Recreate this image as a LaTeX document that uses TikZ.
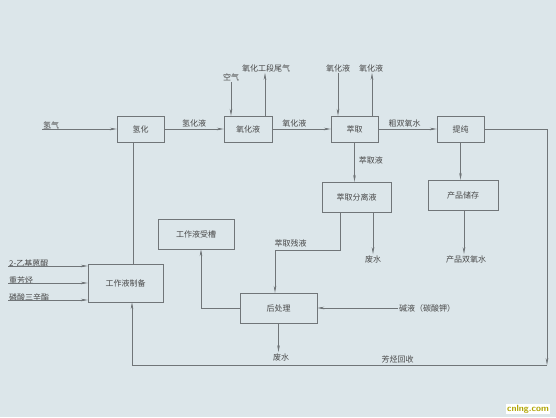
\documentclass[tikz,border=0pt]{standalone}
\usepackage{fontspec}
\usepackage{tikz}
\usetikzlibrary{arrows.meta,positioning,calc}
\newfontfamily\cjk{Noto Sans CJK SC}

\definecolor{bgblue}{RGB}{220,230,234}
\definecolor{linegray}{RGB}{112,117,120}
\definecolor{txtgray}{RGB}{72,72,72}

\begin{document}
\begin{tikzpicture}[
    x=1pt, y=-1pt,
    box/.style={rectangle, draw=linegray, fill=bgblue, inner sep=0pt, minimum height=26pt, align=center, text=txtgray, font=\cjk\fontsize{8}{9}\selectfont},
    lbl/.style={inner sep=1pt, text=txtgray, font=\cjk\fontsize{8}{9}\selectfont},
    arrow/.style={-{Stealth[length=7pt,width=2.6pt]}, draw=linegray, line width=0.6pt},
    line/.style={draw=linegray, line width=0.6pt}
]
    \fill[bgblue] (0,0) rectangle (556,417);
    \useasboundingbox (0,0) rectangle (556,417);

    % main line
    \node[box, minimum width=47pt] (qinghua) at (140.5,129) {氢化};
    \node[box, minimum width=48pt] (yanghua) at (248,129) {氧化液};
    \node[box, minimum width=47pt] (cuiqu) at (354.5,129) {萃取};
    \node[box, minimum width=47pt] (tichun) at (460.5,129) {提纯};
    \node[box, minimum width=69pt, minimum height=30pt] (fenli) at (356.5,197) {萃取分离液};
    \node[box, minimum width=70pt, minimum height=30pt] (chucun) at (463,195) {产品储存};
    \node[box, minimum width=76pt, minimum height=30pt] (shoucao) at (196,234) {工作液受槽};
    \node[box, minimum width=75pt, minimum height=38pt] (zhibei) at (125.5,283) {工作液制备};
    \node[box, minimum width=77pt, minimum height=30pt] (houchuli) at (278.5,308) {后处理};

    % free labels
    \coordinate (h2) at (42,129);
    \node[lbl, anchor=south west] (qingqi) at ([yshift=-1pt]h2) {氢气};
    \node[lbl] (kongqi) at (231,77) {空气};
    \node[lbl] (weiqi) at (266,68) {氧化工段尾气};
    \node[lbl] (yhin) at (338,68) {氧化液};
    \node[lbl] (yhout) at (371,68) {氧化液};
    \node[lbl] (shuang) at (466,259) {产品双氧水};
    \node[lbl] (feishui1) at (373,259) {废水};
    \node[lbl] (feishui2) at (281,357) {废水};
    \node[lbl, anchor=west] (jianye) at (398,308) {碱液（碳酸钾）};

    \draw[arrow] (h2) -- (qinghua);
    \draw[arrow] (qinghua) -- node[lbl, above=1pt] {氢化液} (yanghua);
    \draw[arrow] (yanghua) -- node[lbl, above=1pt, pos=0.38] {氧化液} (cuiqu);
    \draw[arrow] (cuiqu) -- node[lbl, above=1pt, pos=0.45] {粗双氧水} (tichun);

    \draw[arrow] (kongqi) -- (kongqi |- yanghua.north);
    \draw[arrow] ([xshift=17pt]yanghua.north) -- ([xshift=-1pt]weiqi.south);
    \draw[arrow] (yhin) -- (yhin |- cuiqu.north);
    \draw[arrow] ([xshift=17.5pt]cuiqu.north) -- ([xshift=1pt]yhout.south);

    \draw[arrow] (cuiqu) -- node[lbl, right=3pt, pos=0.45] {萃取液} (cuiqu |- fenli.north);
    \draw[arrow] (tichun) -- (tichun |- chucun.north);
    \draw[arrow] ([xshift=1pt]chucun.south) -- ([xshift=-2pt]shuang.north);
    \draw[arrow] (fenli.south -| feishui1) -- (feishui1);

    \coordinate (cy) at (340,250);
    \draw[arrow] (fenli.south -| cy) -- (cy) -| node[lbl, above=2pt, pos=0.38] {萃取残液} ([xshift=-3.5pt]houchuli.north);
    \draw[arrow] (houchuli) -- (houchuli |- feishui2.north);
    \draw[arrow] (jianye) -- (houchuli);
    \draw[arrow] (houchuli) -| ([xshift=5pt]shoucao.south);

    % recycle loop
    \coordinate (rc) at (547,365);
    \draw[arrow] (tichun) -| (rc);
    \draw[arrow] (rc) -| node[lbl, above=1pt, pos=0.18] {芳烃回收} ([xshift=6.5pt]zhibei.south);
    \draw[line] ([xshift=-7.5pt]qinghua.south) -- ([xshift=7.5pt]zhibei.north);

    % raw materials
    \coordinate (in1) at (8,266);
    \coordinate (in2) at (8,283);
    \coordinate (in3) at (8,300);
    \node[lbl, anchor=south west] at ([yshift=-2pt]in1) {2-乙基蒽醌};
    \node[lbl, anchor=south west] at ([yshift=-2pt]in2) {重芳烃};
    \node[lbl, anchor=south west] at ([yshift=-2pt]in3) {磷酸三辛酯};
    \draw[arrow] (in1) -- (in1 -| zhibei.west);
    \draw[arrow] (in2) -- (in2 -| zhibei.west);
    \draw[arrow] (in3) -- (in3 -| zhibei.west);

    \node[fill=white, inner sep=1pt, text=olive!70!yellow, font=\sffamily\bfseries\fontsize{9}{10}\selectfont] (mark) at (528,409) {cnlng.com};
\end{tikzpicture}
\end{document}
